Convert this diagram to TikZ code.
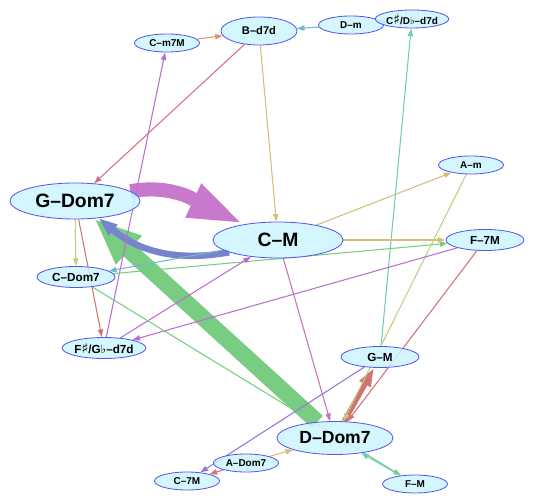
\documentclass[tikz,border=0pt]{standalone}
\usepackage{fontspec}
\setmainfont{Liberation Sans}
\newfontfamily\symfont{DejaVu Sans}
\usetikzlibrary{arrows.meta,shapes.geometric,backgrounds}
\definecolor{chordfill}{RGB}{205,245,255}
\definecolor{chordline}{RGB}{85,85,240}
\definecolor{edgesalmon}{RGB}{222,150,110}
\definecolor{edgeteal}{RGB}{110,185,205}
\definecolor{edgepale}{RGB}{150,215,160}
\definecolor{edgeaqua}{RGB}{110,205,180}
\definecolor{edgerose}{RGB}{210,110,140}
\definecolor{edgekhaki}{RGB}{212,190,120}
\definecolor{edgelime}{RGB}{185,210,125}
\definecolor{edgepurple}{RGB}{185,110,210}
\definecolor{edgepink}{RGB}{205,110,190}
\definecolor{edgemagenta}{RGB}{200,120,205}
\definecolor{edgeblue}{RGB}{120,130,205}
\definecolor{edgegreen}{RGB}{120,205,130}
\definecolor{edgered}{RGB}{208,115,115}
\definecolor{edgeviolet}{RGB}{145,120,215}
\tikzset{
  chord/.style={ellipse, draw=chordline, line width=0.7pt, fill=chordfill,
    fill opacity=0.85, text opacity=1, inner sep=0pt},
  bigchord/.style={chord, minimum width=3.9cm, minimum height=1.08cm,
    font=\fontsize{16.5}{18}\selectfont\bfseries},
  midchord/.style={chord, minimum width=2.34cm, minimum height=0.63cm,
    font=\fontsize{10}{12}\selectfont\bfseries},
  smallchord/.style={chord, minimum width=1.95cm, minimum height=0.54cm,
    font=\fontsize{8.5}{10}\selectfont\bfseries},
  link/.style={line width=0.9pt, -{Triangle[length=6.5pt,width=4.5pt]}},
}

\begin{document}
\begin{tikzpicture}[x=0.03cm, y=0.03cm]
  \useasboundingbox (0,0) rectangle (535,503);
  % Chord nodes
  \node[smallchord] (cm7M) at (167,460) {C--m7M};
  \node[chord, minimum width=2.28cm, minimum height=0.84cm,
    font=\fontsize{9.5}{11}\selectfont\bfseries] (bd7d) at (259,472) {B--d7d};
  \node[smallchord] (dm) at (351,478) {D--m};
  \node[smallchord] (csd7d) at (412,484) {C{\symfont\large ♯}/D{\symfont ♭}--d7d};
  \node[bigchord] (gdom7) at (75,302) {G--Dom7};
  \node[bigchord] (cM) at (278,263) {C--M};
  \node[smallchord] (am) at (471,338) {A--m};
  \node[midchord] (f7M) at (485,263) {F--7M};
  \node[midchord] (cdom7) at (76,226) {C--Dom7};
  \node[midchord] (fsd7d) at (104,155) {F{\symfont\large ♯}/G{\symfont ♭}--d7d};
  \node[midchord] (gM) at (380,146) {G--M};
  \node[bigchord, minimum width=3.48cm, minimum height=0.99cm,
    font=\fontsize{15}{17}\selectfont\bfseries] (ddom7) at (335,65) {D--Dom7};
  \node[smallchord] (adom7) at (246,40) {A--Dom7};
  \node[smallchord] (c7M) at (187,22) {C--7M};
  \node[smallchord] (fM) at (415,19) {F--M};
  \begin{scope}[on background layer]
    % Heavy transitions
    \draw[edgegreen, line width=14pt, -{Triangle[length=40pt,width=30pt]}] (ddom7) -- (gdom7);
    \draw[edgemagenta, line width=12pt, -{Triangle[length=48pt,width=28pt]}] (gdom7) to[out=10, in=155] (cM);
    \draw[edgeblue, line width=5.5pt, -{Triangle[length=16pt,width=11pt]}] (cM) to[bend left=25] (gdom7);
    \draw[edgered, line width=4.5pt, -{Triangle[length=16pt,width=10pt]}] (ddom7) -- (gM);
    % Light transitions
    \foreach \from/\to/\col in {cm7M/bd7d/edgesalmon, dm/bd7d/edgeteal, dm/csd7d/edgepale,
        gM/csd7d/edgeaqua, bd7d/gdom7/edgerose, bd7d/cM/edgekhaki, fsd7d/cm7M/edgepurple,
        gdom7/cdom7/edgelime, gdom7/fsd7d/edgered, cM/cdom7/edgeteal, cdom7/f7M/edgegreen,
        cM/f7M/edgekhaki, cM/am/edgekhaki, am/ddom7/edgelime, fsd7d/cM/edgepurple,
        f7M/fsd7d/edgepurple, cM/ddom7/edgepink, f7M/ddom7/edgered, cdom7/fM/edgegreen,
        fM/ddom7/edgeaqua, gM/c7M/edgeviolet, adom7/ddom7/edgekhaki, adom7/c7M/edgered}
      \draw[link, \col] (\from) -- (\to);
  \end{scope}
\end{tikzpicture}
\end{document}
